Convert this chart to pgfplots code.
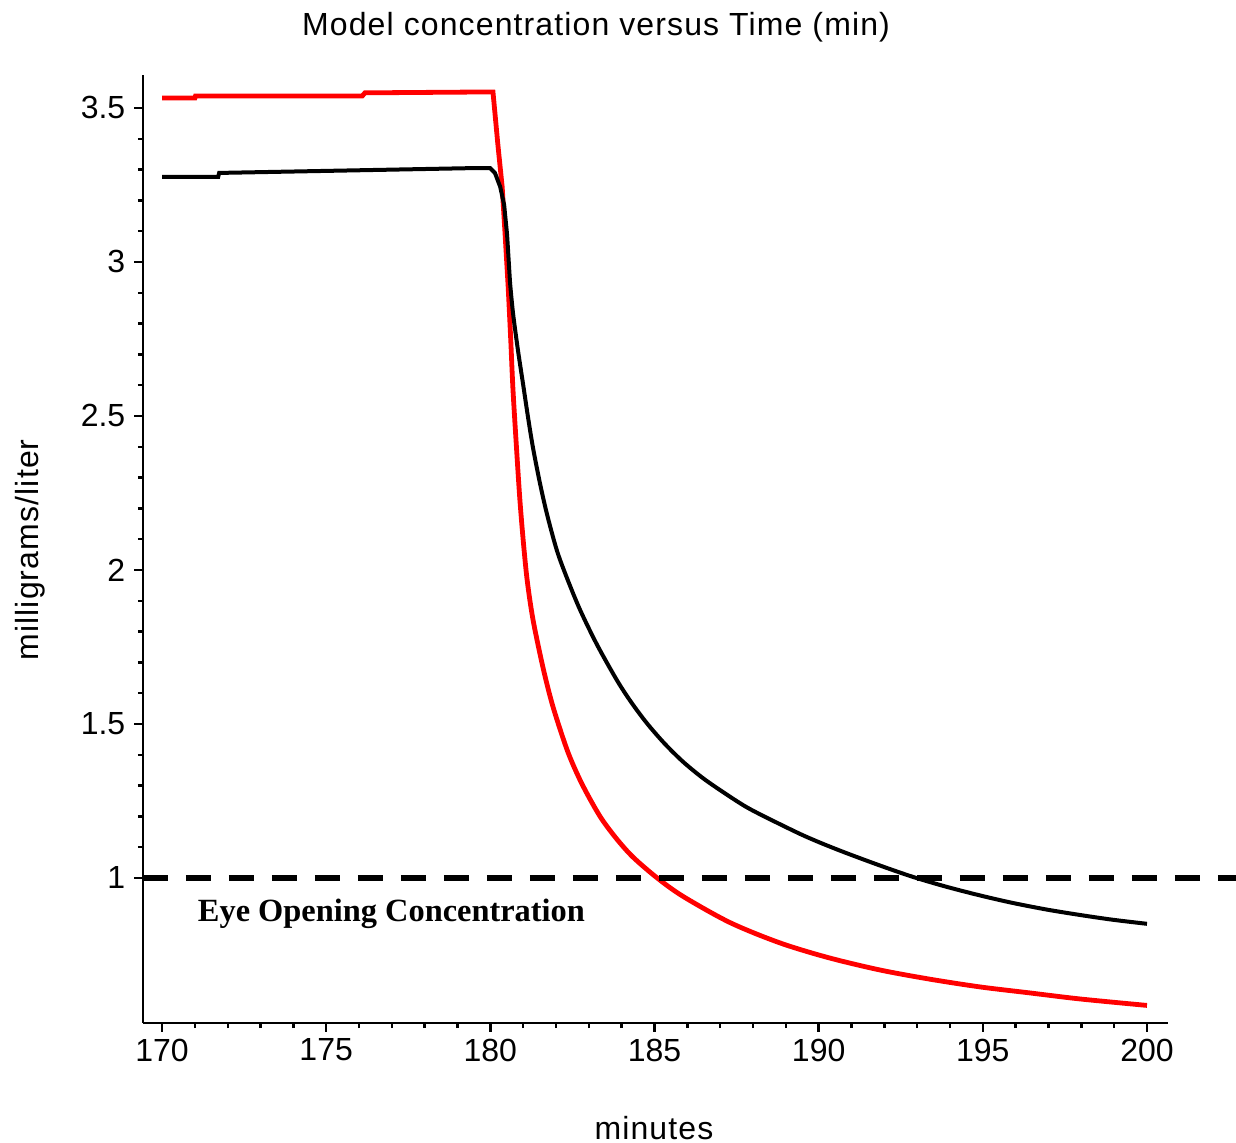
\documentclass[border=0pt]{standalone}
\usepackage{pgfplots}
\pgfplotsset{compat=1.18}
\usepackage{fontspec}
\setmainfont{Liberation Sans}
\newfontfamily\timesfont{Liberation Serif}
\newfontfamily\lsfont[LetterSpace=3.5]{Liberation Sans}
\definecolor{mred}{RGB}{255,0,0}
\begin{document}
\begin{tikzpicture}
\begin{axis}[
  scale only axis, width=256.25pt, height=237pt,
  xmin=169.42, xmax=200.64, ymin=0.529, ymax=3.607,
  axis x line*=bottom, axis y line*=left,
  axis line style={line width=0.7pt},
  xtick={170,175,...,200}, ytick={1,1.5,2,2.5,3,3.5},
  minor x tick num=4, minor y tick num=4,
  tick align=outside, major tick length=2.2pt, minor tick length=1.3pt,
  every tick/.style={line width=0.6pt, black},
  ticklabel style={font=\fontsize{8}{9}\selectfont},
  xticklabel style={yshift=1.8pt},
  yticklabel style={xshift=1.3pt},
  /pgf/number format/assume math mode=true,
  clip=false,
]
\addplot[mred, line width=1.2pt] coordinates {
(170,3.532) (171.0,3.532) (171.02,3.539) (176.1,3.539) (176.18,3.549) (179.99,3.552) (180.08,3.552)
(180.23,3.380) (180.36,3.244) (180.45,3.088) (180.54,2.925)
};
\addplot[mred, line width=1.2pt, smooth, tension=0.5] coordinates {
(180.54,2.925) (180.62,2.75) (180.69,2.584)
(180.81,2.373) (180.90,2.227) (181.0,2.097) (181.12,1.968) (181.30,1.838) (181.61,1.68)
(181.91,1.555) (182.34,1.415) (182.7,1.325) (183.04,1.255) (183.4,1.19) (183.86,1.125) (184.35,1.067)
(185.08,1.0) (185.87,0.94) (187.3,0.855) (188.82,0.789) (190.3,0.741) (191.87,0.701) (193.4,0.671) (194.92,0.646) (196.4,0.627) (197.96,0.607) (200.0,0.586)
};
\addplot[black, line width=1.0pt] coordinates {
(170,3.276) (171.71,3.276) (171.74,3.289) (179.63,3.305) (179.99,3.305) (180.14,3.289)
(180.30,3.244) (180.42,3.185) (180.51,3.088) (180.60,2.932)
};
\addplot[black, line width=1.0pt, smooth, tension=0.5] coordinates {
(180.60,2.932) (180.69,2.834) (180.84,2.714) (181.00,2.601) (181.15,2.494) (181.30,2.396)
(181.51,2.282) (181.73,2.179) (182.03,2.062) (182.34,1.972) (182.73,1.871) (183.25,1.757)
(183.86,1.641) (184.3,1.569) (184.77,1.502) (185.3,1.437) (185.87,1.377) (186.5,1.322) (187.21,1.270)
(187.8,1.230) (188.43,1.195) (189.43,1.143) (190.1,1.112) (190.86,1.080) (191.9,1.039) (192.88,1.003)
(193.9,0.971) (194.92,0.943) (195.9,0.919) (196.96,0.897) (198.0,0.879) (198.97,0.864) (200.0,0.851)
};
\addplot[black, line width=1.5pt, dash pattern=on 6.25pt off 4.5pt] coordinates {(169.42,1) (202.8,1)};
\node[font=\timesfont\bfseries\fontsize{8.1}{9}\selectfont, anchor=west, inner sep=0pt] at (axis cs:171.07,0.882) {Eye Opening Concentration};
\node[font=\lsfont\fontsize{8}{9}\selectfont] at (rel axis cs:0.442,1.0506) {Model concentration versus Time (min)};
\node[font=\lsfont\fontsize{8}{9}\selectfont] at (rel axis cs:0.4985,-0.1108) {minutes};
\node[font=\lsfont\fontsize{8}{9}\selectfont, rotate=90] at (rel axis cs:-0.110,0.499) {milligrams/liter};
\end{axis}
\pgfresetboundingbox
\path[use as bounding box] (-35.75pt,-30pt) rectangle (273.25pt,255.75pt);
\end{tikzpicture}
\end{document}
